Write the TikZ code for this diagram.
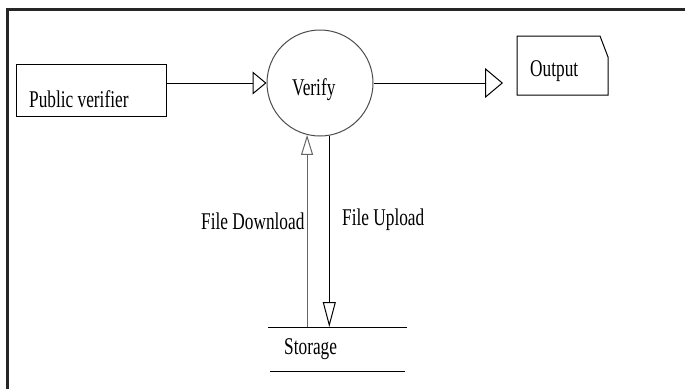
\documentclass[tikz,border=0pt]{standalone}
\usepackage{fontspec}
\setmainfont{Liberation Serif}[FakeStretch=0.72]
\usetikzlibrary{arrows.meta}
\begin{document}
\begin{tikzpicture}[x=1pt,y=-1pt,
  lbl/.style={anchor=base west,inner sep=0pt,font=\fontsize{24}{28}\selectfont},
  shapebox/.style={draw,line width=1pt,minimum width=150pt,minimum height=52pt,inner sep=0pt},
  proc/.style={draw=black!70,line width=1pt,circle,minimum size=106pt,inner sep=0pt},
  ghost/.style={inner sep=0pt,outer sep=0pt},
  flow/.style={line width=1pt},
  frame/.style={line width=3pt,draw=black!85}]
\useasboundingbox (0,0) rectangle (685,389);

% outer frame (top and left edges)
\coordinate (fc) at (7,9.5);
\draw[frame] (fc |- 0,389) -- (fc) -- (685,9.5);

% external entity
\node[shapebox] (pv) at (91,90) {};
\node[lbl] (pvt) at (29,107) {Public verifier};

% process
\node[proc] (ver) at (320,83) {};
\node[lbl] (vert) at (292,95) {Verify};

% output document
\node[ghost,minimum width=91pt,minimum height=59pt] (out) at (562.5,65.5) {};
\draw[line width=1pt] (out.north west) -- ([xshift=-8pt]out.north east)
  -- ([yshift=-21pt]out.north east) -- (out.south east) -- (out.south west) -- cycle;
\node[lbl] (outt) at (530,76) {Output};
\coordinate (oin) at (503,83);

% data store
\node[ghost,minimum width=139pt,minimum height=44pt] (st) at (337.5,349) {};
\draw[line width=1pt] (st.north west) -- (st.north east);
\draw[line width=1pt] ([xshift=2pt]st.south west) -- ([xshift=-2pt]st.south east);
\node[lbl] (stt) at (284,354) {Storage};

% flows
\draw[flow,-{Triangle[open,length=14pt,width=23pt]}] (pv.east |- ver.west) -- (ver.west);
\draw[flow,-{Triangle[open,length=18pt,width=30pt]}] (ver.east) -- (oin);
\draw[flow,draw=black!60,{Triangle[open,length=20pt,width=12pt]}-] (ver.256) -- (ver.256 |- st.north);
\draw[flow,-{Triangle[open,length=25pt,width=13pt]}] (ver.280) -- (ver.280 |- st.north);

% flow labels
\node[lbl] (fd) at (201,229) {File Download};
\node[lbl] (fu) at (342,225) {File Upload};
\end{tikzpicture}
\end{document}
